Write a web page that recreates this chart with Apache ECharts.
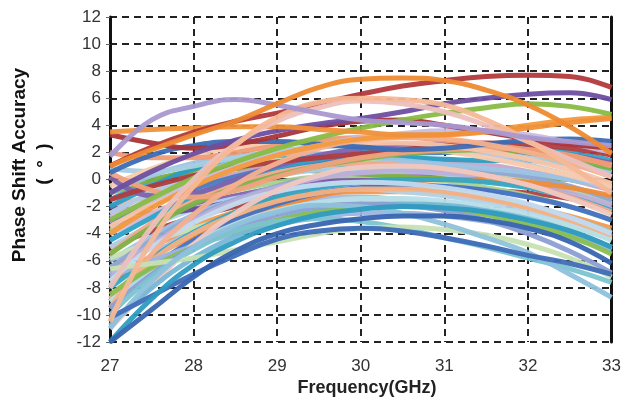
<!DOCTYPE html>
<html>
<head>
<meta charset="utf-8">
<script src="https://cdn.jsdelivr.net/npm/echarts@6/dist/echarts.min.js"></script>
<style>
  html, body { margin: 0; padding: 0; background: #fff; }
  #chart { width: 624px; height: 401px; }
</style>
</head>
<body>
<div id="chart"></div>
<script>
// Frequency sample points (GHz)
const freqs = [27, 27.5, 28, 28.5, 29, 29.5, 30, 30.5, 31, 31.5, 32, 32.5, 33];
const xTicks = [27, 28, 29, 30, 31, 32, 33];
const yTicks = [-12, -10, -8, -6, -4, -2, 0, 2, 4, 6, 8, 10, 12];

// Phase shift accuracy (deg) for each phase state, sampled at freqs
const s01 = [1.0, 2.2, 3.3, 4.3, 5.6, 6.8, 7.4, 7.5, 7.3, 6.6, 5.5, 3.9, 1.9];
const s02 = [3.5, 3.7, 3.8, 3.9, 3.9, 3.7, 3.5, 3.3, 3.3, 3.5, 3.8, 4.2, 4.5];
const s03 = [1.0, 2.4, 3.5, 4.3, 4.9, 5.6, 6.3, 6.9, 7.3, 7.6, 7.7, 7.6, 6.8];
const s04 = [1.7, 4.4, 5.4, 5.9, 5.5, 4.9, 4.4, 4.2, 4.0, 3.6, 3.1, 2.8, 2.5];
const s05 = [-1.0, 0.6, 1.9, 2.9, 3.6, 4.1, 4.5, 5.0, 5.6, 6.0, 6.3, 6.4, 5.9];
const s06 = [-3.0, -1.4, 0.1, 1.3, 2.3, 3.1, 3.8, 4.4, 4.9, 5.3, 5.6, 5.4, 4.8];
const s07 = [-4.0, -2.1, -0.5, 0.8, 1.8, 2.5, 3.0, 3.2, 3.3, 3.6, 4.0, 4.4, 4.6];
const s08 = [3.3, 2.7, 2.3, 2.6, 3.2, 3.9, 4.3, 4.4, 4.0, 3.5, 3.0, 2.6, 2.3];
const s09 = [-10.5, -4.5, -0.5, 2.5, 4.6, 5.7, 6.0, 5.9, 5.5, 4.4, 2.9, 1.0, -1.0];
const s10 = [-8.0, -3.5, 0.0, 2.6, 4.3, 5.3, 5.8, 5.6, 5.0, 4.0, 2.8, 1.5, 0.2];
const s11 = [0.5, 1.8, 2.5, 2.8, 2.8, 2.6, 2.4, 2.2, 2.3, 2.6, 2.9, 3.0, 2.8];
const s12 = [-2.0, -0.5, 0.8, 1.5, 1.8, 1.8, 1.7, 1.6, 1.5, 1.4, 1.4, 1.2, 0.6];
const s13 = [-1.0, 0.3, 1.2, 1.7, 1.9, 1.9, 1.7, 1.4, 1.1, 0.8, 0.5, 0.0, -0.6];
const s14 = [0.5, -0.8, -1.3, -0.8, 0.2, 1.0, 1.6, 2.0, 2.2, 2.3, 2.2, 1.8, 1.0];
const s15 = [-2.5, -1.0, 0.2, 1.0, 1.4, 1.5, 1.4, 1.2, 0.9, 0.5, 0.0, -0.7, -1.6];
const s16 = [0.2, -1.2, -1.0, 0.0, 1.0, 1.8, 2.3, 2.6, 2.6, 2.4, 2.1, 1.8, 1.2];
const s17 = [-1.5, -0.5, 0.3, 0.9, 1.3, 1.6, 1.9, 2.2, 2.5, 2.7, 2.6, 2.3, 1.8];
const s18 = [-5.5, -3.5, -1.8, -0.6, 0.3, 1.0, 1.5, 1.9, 2.1, 2.2, 2.0, 1.5, 0.8];
const s19 = [-6.5, -4.5, -2.8, -1.5, -0.5, 0.2, 0.6, 0.8, 0.8, 0.6, 0.2, -0.5, -1.5];
const s20 = [-3.5, -1.8, -0.3, 0.9, 1.8, 2.4, 2.7, 2.7, 2.5, 2.1, 1.5, 0.7, -0.3];
const s21 = [-8.0, -5.8, -3.9, -2.4, -1.3, -0.6, -0.2, 0.0, 0.0, -0.2, -0.6, -1.3, -2.3];
const s22 = [-9.0, -6.5, -4.5, -3.0, -1.8, -1.0, -0.6, -0.4, -0.5, -0.8, -1.3, -2.0, -3.0];
const s23 = [-4.5, -2.8, -1.4, -0.4, 0.3, 0.7, 0.8, 0.7, 0.4, 0.0, -0.6, -1.3, -2.2];
const s24 = [-7.0, -4.8, -3.0, -1.6, -0.6, 0.1, 0.5, 0.6, 0.5, 0.2, -0.3, -1.0, -1.9];
const s25 = [-7.5, -5.7, -4.2, -3.0, -2.0, -1.2, -0.6, -0.2, 0.0, 0.0, -0.2, -0.6, -1.2];
const s26 = [-6.6, -6.2, -5.8, -5.2, -4.6, -4.0, -3.6, -3.5, -3.7, -4.1, -4.8, -5.8, -7.2];
const s27 = [-12.0, -9.6, -7.2, -5.3, -4.0, -3.3, -2.9, -2.7, -2.7, -3.0, -3.6, -4.6, -6.2];
const s28 = [-12.0, -8.8, -6.3, -4.6, -3.4, -2.6, -2.2, -2.0, -2.1, -2.4, -3.0, -3.8, -5.0];
const s29 = [-10.2, -8.6, -7.0, -5.6, -4.4, -3.8, -3.6, -3.8, -4.3, -4.9, -5.6, -6.2, -7.0];
const s30 = [-11.0, -7.5, -5.0, -3.4, -2.4, -1.9, -2.0, -2.5, -3.3, -4.3, -5.4, -7.0, -8.7];
const s31 = [-9.5, -7.0, -5.0, -3.6, -2.6, -2.0, -1.8, -1.9, -2.3, -3.0, -4.0, -5.3, -6.9];
const s32 = [-10.0, -7.2, -5.2, -3.8, -3.1, -2.9, -3.1, -3.6, -4.3, -5.0, -5.8, -6.6, -7.6];
const s33 = [-8.5, -6.5, -5.0, -3.8, -3.0, -2.4, -2.1, -2.0, -2.2, -2.6, -3.3, -4.2, -5.5];
const s34 = [-5.5, -3.2, -1.5, -0.3, 0.5, 1.0, 1.2, 1.1, 0.8, 0.3, -0.4, -1.3, -2.4];
const s35 = [-2.0, -1.2, -0.4, 0.3, 0.8, 1.1, 1.2, 1.1, 0.8, 0.4, -0.2, -1.0, -2.0];
const s36 = [-3.5, -2.6, -1.8, -1.2, -0.6, -0.2, 0.1, 0.2, 0.2, 0.1, -0.2, -0.7, -1.4];
const s37 = [-5.0, -3.8, -2.8, -2.0, -1.4, -1.0, -0.8, -0.7, -0.7, -0.8, -1.0, -1.4, -2.0];
const s38 = [-6.5, -5.0, -3.5, -2.4, -1.6, -1.1, -0.9, -0.9, -1.1, -1.5, -2.0, -2.7, -3.6];
const s39 = [-5.0, -3.4, -2.2, -1.4, -0.9, -0.7, -0.7, -0.9, -1.2, -1.7, -2.3, -3.2, -4.3];
const s40 = [-3.8, -2.6, -1.6, -0.8, -0.2, 0.2, 0.3, 0.2, -0.1, -0.6, -1.2, -2.0, -3.0];
const s41 = [-1.5, -0.2, 0.7, 1.2, 1.3, 1.2, 1.0, 0.8, 0.7, 0.6, 0.4, 0.0, -0.5];
const s42 = [-2.8, -1.5, -0.2, 0.9, 1.8, 2.5, 3.1, 3.4, 3.6, 3.6, 3.3, 2.7, 2.0];
const s43 = [-9.5, -5.5, -2.6, -0.4, 1.2, 2.3, 2.9, 3.1, 3.0, 2.6, 2.0, 1.2, 0.2];
const s44 = [-3.0, -1.8, -0.7, 0.2, 0.9, 1.4, 1.7, 1.9, 2.0, 2.0, 1.9, 1.6, 1.1];
const s45 = [-4.5, -2.8, -1.2, 0.0, 0.9, 1.5, 2.0, 2.3, 2.4, 2.4, 2.3, 2.0, 1.4];
const s46 = [-7.5, -5.0, -3.2, -1.8, -0.9, -0.4, -0.2, -0.3, -0.6, -1.1, -1.8, -2.8, -4.0];
const s47 = [-11.0, -7.8, -4.8, -2.5, -0.8, 0.3, 0.9, 1.0, 0.8, 0.3, -0.4, -1.4, -2.6];
const s48 = [-2.0, -2.5, -2.2, -1.6, -1.0, -0.5, -0.2, 0.0, 0.0, -0.1, -0.4, -0.8, -1.4];
const s49 = [-1.0, 0.0, 0.6, 0.8, 0.8, 0.6, 0.4, 0.2, 0.1, 0.1, 0.1, 0.0, -0.3];
const s50 = [2.0, 1.6, 1.6, 2.0, 2.5, 2.9, 3.1, 3.1, 2.9, 2.6, 2.2, 1.7, 1.1];
const s51 = [-6.0, -4.2, -2.6, -1.5, -0.8, -0.4, -0.3, -0.4, -0.7, -1.2, -1.9, -2.8, -3.9];
const s52 = [-9.0, -6.8, -4.8, -3.3, -2.3, -1.7, -1.4, -1.4, -1.6, -2.0, -2.6, -3.4, -4.5];
const s53 = [-7.8, -5.6, -3.8, -2.6, -1.8, -1.4, -1.3, -1.5, -1.9, -2.5, -3.2, -4.0, -5.0];
const s54 = [-4.0, -2.5, -1.2, -0.2, 0.6, 1.1, 1.3, 1.3, 1.1, 0.7, 0.1, -0.7, -1.8];
const s55 = [-8.8, -6.0, -4.0, -2.6, -1.6, -1.0, -0.7, -0.7, -0.9, -1.4, -2.1, -3.0, -4.2];
const s56 = [-10.8, -8.0, -5.8, -4.2, -3.0, -2.3, -1.9, -1.8, -1.9, -2.3, -2.9, -3.8, -5.0];
const s57 = [-2.5, -1.0, 0.3, 1.3, 2.0, 2.4, 2.6, 2.6, 2.3, 1.8, 1.1, 0.3, -0.7];
const s58 = [-0.5, 0.8, 1.8, 2.4, 2.7, 2.8, 2.7, 2.5, 2.1, 1.6, 1.0, 0.3, -0.5];
const s59 = [-5.8, -4.6, -3.6, -2.8, -2.2, -1.8, -1.6, -1.6, -1.8, -2.2, -2.8, -3.5, -4.4];
const s60 = [-7.2, -6.0, -4.9, -4.0, -3.3, -2.8, -2.5, -2.5, -2.7, -3.1, -3.6, -4.3, -5.2];
const s61 = [-3.2, -1.8, -0.6, 0.4, 1.0, 1.4, 1.6, 1.6, 1.4, 1.1, 0.6, 0.0, -0.8];
const s62 = [0.8, 0.6, 1.0, 1.6, 2.1, 2.4, 2.5, 2.5, 2.3, 2.0, 1.6, 1.1, 0.5];

// Draw order: inner band first, so the outer curves sit on top
const curves = [
  [s35, '#E6B2B0'], [s36, '#8462AF'], [s37, '#B0403F'], [s38, '#F29B4B'],
  [s39, '#B3D3EA'], [s40, '#A9D18E'], [s41, '#3AA9C6'], [s48, '#6A4C98'],
  [s49, '#7DAF3F'], [s51, '#9BC2E6'], [s53, '#A5B8DD'], [s59, '#C9E2B5'],
  [s54, '#D9B8D6'], [s61, '#C6A5C9'], [s15, '#BCDCA4'], [s19, '#8FA7D2'],
  [s23, '#A8CCE6'], [s24, '#BCB0DA'], [s25, '#EF8C38'], [s21, '#35A8C4'],
  [s22, '#4472C4'], [s55, '#F4B183'], [s52, '#B7DEE8'], [s60, '#9DB5E0'],
  [s34, '#F2AA8A'], [s46, '#C3DAEE'], [s44, '#4A7BC0'], [s45, '#2FA4C8'],
  [s12, '#2A9EC2'], [s13, '#9CC4E4'], [s62, '#A9CFE0'], [s57, '#B4C7E7'],
  [s58, '#F8CBAD'], [s16, '#7E62AE'], [s17, '#B03B3F'],
  [s18, '#7FB24A'], [s14, '#F0A27E'], [s20, '#F7C4A6'], [s50, '#EE9A74'],
  [s11, '#3C6DB5'], [s42, '#C7BEE0'], [s47, '#F0C8C0'], [s43, '#F4B08E'],
  [s56, '#76B7D6'], [s33, '#8ABF52'], [s31, '#8C9FD4'], [s32, '#7CC4D0'],
  [s26, '#C6E2B2'], [s30, '#8EC1DC'], [s29, '#3F6DB8'], [s28, '#2E9BC0'],
  [s27, '#3865B0'], [s08, '#A93438'], [s07, '#F39A3E'], [s06, '#88BC45'],
  [s05, '#6E4FA0'], [s02, '#F0913A'], [s03, '#B23A3C'], [s10, '#EBC0BE'],
  [s09, '#F5B896'], [s04, '#A998D0'], [s01, '#EE8A32']
];

const series = curves.map(([vals, color], i) => ({
  type: 'line',
  name: 'state' + (i + 1),
  data: freqs.map((f, k) => [f, vals[k]]),
  smooth: 0.45,
  showSymbol: false,
  symbol: 'none',
  lineStyle: { width: 5, color: color, opacity: 0.95 },
  xAxisIndex: 0,
  yAxisIndex: 0,
  silent: true,
  z: 3
}));

const dashed = { show: true, lineStyle: { color: '#222', width: 2, type: [7, 5] } };
const frame = { show: true, lineStyle: { color: '#111', width: 3 } };

const chart = echarts.init(document.getElementById('chart'), null, { renderer: 'canvas' });
chart.setOption({
  animation: false,
  backgroundColor: '#fff',
  grid: { left: 110, right: 11, top: 17, bottom: 59 },
  xAxis: [
    {
      type: 'value', min: xTicks[0], max: xTicks[xTicks.length - 1], interval: 1,
      axisLine: frame, axisTick: { show: false },
      splitLine: dashed,
      axisLabel: { fontSize: 17, color: '#333', fontFamily: 'Liberation Sans, Arial', margin: 16 }
    },
    {
      type: 'value', position: 'top', min: xTicks[0], max: xTicks[xTicks.length - 1], interval: 1,
      axisLine: frame, axisTick: { show: false }, axisLabel: { show: false }, splitLine: { show: false }
    }
  ],
  yAxis: [
    {
      type: 'value', min: yTicks[0], max: yTicks[yTicks.length - 1], interval: 2,
      axisLine: frame,
      axisTick: { show: true, length: 4, lineStyle: { color: '#666', width: 1 } },
      splitLine: dashed,
      axisLabel: { fontSize: 17, color: '#333', fontFamily: 'Liberation Sans, Arial', margin: 9 }
    },
    {
      type: 'value', position: 'right', min: yTicks[0], max: yTicks[yTicks.length - 1], interval: 2,
      axisLine: frame, axisTick: { show: false }, axisLabel: { show: false }, splitLine: { show: false }
    }
  ],
  graphic: [
    {
      type: 'text', x: 20, y: 165, rotation: Math.PI / 2,
      style: {
        text: 'Phase Shift Accuracy', fontSize: 19, fontWeight: 'bold',
        fontFamily: 'Liberation Sans, Arial', fill: '#111', align: 'center', verticalAlign: 'middle'
      }
    },
    {
      type: 'text', x: 44, y: 164, rotation: Math.PI / 2,
      style: {
        text: '(  °  )', fontSize: 19, fontWeight: 'bold',
        fontFamily: 'Liberation Sans, Arial', fill: '#111', align: 'center', verticalAlign: 'middle'
      }
    },
    {
      type: 'text', x: 367, y: 388,
      style: {
        text: 'Frequency(GHz)', fontSize: 18, fontWeight: 'bold',
        fontFamily: 'Liberation Sans, Arial', fill: '#222', align: 'center', verticalAlign: 'middle'
      }
    }
  ],
  series: series
});
</script>
</body>
</html>
